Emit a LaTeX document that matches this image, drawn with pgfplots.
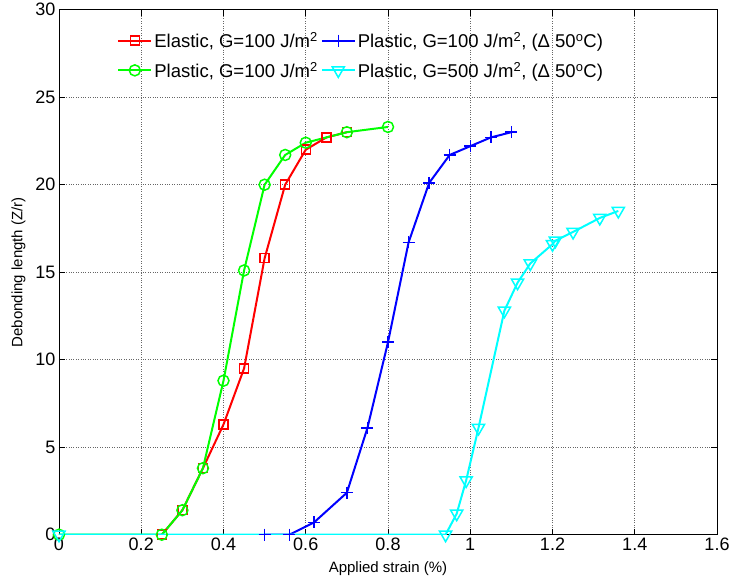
\documentclass[border=0pt]{standalone}
\usepackage{pgfplots}
\pgfplotsset{compat=1.18}
\usepackage{fontspec}
\setmainfont{Liberation Sans}
\definecolor{mred}{rgb}{1,0,0}
\definecolor{mgreen}{rgb}{0,1,0}
\definecolor{mblue}{rgb}{0,0,1}
\definecolor{mcyan}{rgb}{0,1,1}

\begin{document}
\begin{tikzpicture}
\begin{axis}[
    name=main,
    scale only axis,
    width=658pt, height=525pt,
    xmin=0, xmax=1.6, ymin=0, ymax=30,
    xtick={0,0.2,0.4,0.6,0.8,1,1.2,1.4,1.6},
    ytick={0,5,10,15,20,25,30},
    /pgf/number format/assume math mode=true,
    ticklabel style={font=\fontsize{18}{20}\selectfont},
    grid=major,
    major grid style={dotted, black!60, line width=0.6pt},
    tick align=inside,
    major tick length=6pt,
    axis line style={line width=0.8pt},
    every tick/.style={black, line width=0.6pt},
    xlabel={Applied strain (\%)},
    ylabel={Debonding length (Z/r)},
    label style={font=\fontsize{15}{16}\selectfont},
    xlabel style={yshift=-4pt},
    ylabel style={yshift=3pt},
    legend columns=2,
    legend cell align=left,
    legend style={at={(axis cs:0.134,28.9)}, anchor=north west, draw=none, fill=none,
        font=\fontsize{18.5}{21}\selectfont, row sep=11pt,
        nodes={inner xsep=2pt, inner ysep=1pt},
        /tikz/every even column/.append style={column sep=1pt}},
    legend image code/.code={
        \draw[mark repeat=2,mark phase=2] plot coordinates {(0cm,0cm) (0.58cm,0cm) (1.16cm,0cm)};},
]
\addplot[mred, line width=2pt, mark=square, mark size=4.5pt, mark options={solid, line width=1.5pt}]
    coordinates {
    (0.25,0)(0.30,1.4)(0.35,3.8)(0.40,6.3)(0.45,9.5)(0.50,15.8)(0.55,20.0)(0.60,22.0)(0.65,22.7)(0.70,23.0)
    };
\addlegendentry{Elastic, G=100 J/m\textsuperscript{2}}

\addplot[mblue, line width=2pt, mark=+, mark size=6pt, mark options={solid, line width=1.5pt}]
    coordinates {
    (0.50,0)(0.56,0)(0.62,0.7)(0.70,2.4)(0.75,6.1)(0.80,11.0)(0.85,16.7)(0.90,20.1)(0.95,21.7)(1.00,22.2)(1.05,22.7)(1.10,23.0)
    };
\addlegendentry{Plastic, G=100 J/m\textsuperscript{2}, (Δ 50\textsuperscript{o}C)}

\addplot[mgreen, line width=2pt, mark=o, mark size=5.5pt, mark options={solid, line width=1.5pt}]
    coordinates {
    (0,0)(0.25,0)(0.30,1.4)(0.35,3.8)(0.40,8.8)(0.45,15.1)(0.50,20.0)(0.55,21.7)(0.60,22.4)(0.70,23.0)(0.80,23.3)
    };
\addlegendentry{Plastic, G=100 J/m\textsuperscript{2}}

\addplot[mcyan, line width=2pt, mark=triangle, mark size=7pt, mark options={solid, line width=1.5pt, rotate=180}]
    coordinates {
    (0,0)(0.94,0)(0.967,1.2)(0.99,3.1)(1.02,6.1)(1.083,12.8)(1.115,14.4)(1.146,15.5)(1.20,16.6)(1.207,16.8)(1.25,17.3)(1.315,18.1)(1.36,18.5)
    };
\addlegendentry{Plastic, G=500 J/m\textsuperscript{2}, (Δ 50\textsuperscript{o}C)}
\end{axis}
% page margins as in the reference
\path (main.south west) ++(-59pt,-44pt) (main.north east) ++(16pt,9pt);
\end{tikzpicture}
\end{document}
